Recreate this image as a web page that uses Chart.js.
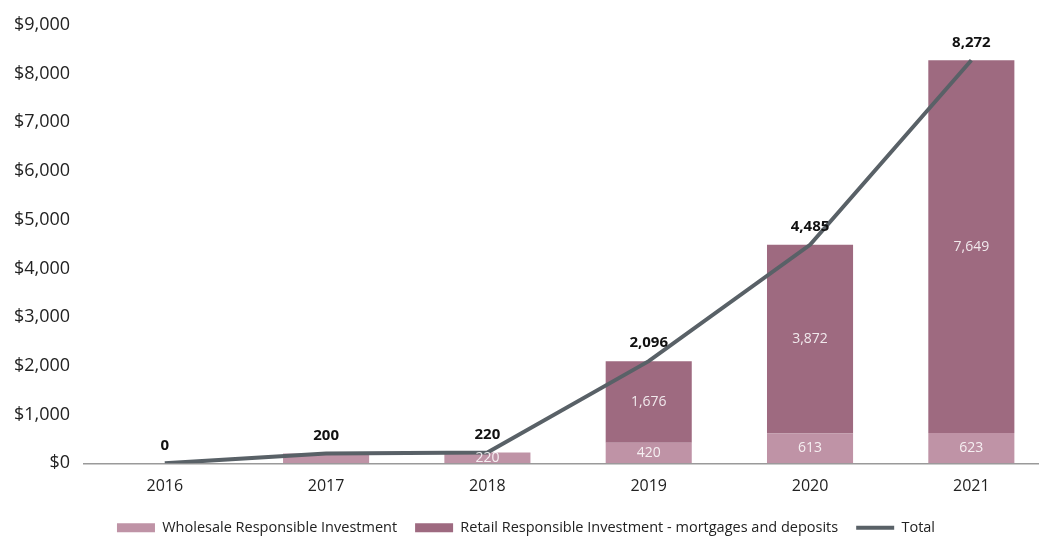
<!DOCTYPE html>
<html>
<head>
<meta charset="utf-8">
<script src="https://cdn.jsdelivr.net/npm/chart.js@4"></script>
<style>
  html, body { margin: 0; padding: 0; background: #fff; overflow: hidden; }
  #wrap { width: 1060px; height: 545px; position: relative; }
</style>
</head>
<body>
<div id="wrap"><canvas id="chart"></canvas></div>
<script>
var years = ["2016", "2017", "2018", "2019", "2020", "2021"];
var wholesale = [0, 200, 220, 420, 613, 623];
var retail = [0, 0, 0, 1676, 3872, 7649];
var totals = [0, 200, 220, 2096, 4485, 8272];
var wholesaleLabels = ["", "", "220", "420", "613", "623"];
var retailLabels = ["", "", "", "1,676", "3,872", "7,649"];
var totalLabels = ["0", "200", "220", "2,096", "4,485", "8,272"];

var FONT = "'Open Sans', sans-serif";

// values inside the bars and totals above the line
var labelPlugin = {
  id: "barLabels",
  afterDatasetsDraw: function (chart) {
    var ctx = chart.ctx;
    ctx.save();
    ctx.textAlign = "center";
    ctx.textBaseline = "middle";
    ctx.font = "14px " + FONT;
    ctx.fillStyle = "rgba(255,255,255,0.85)";
    [[0, wholesaleLabels], [1, retailLabels]].forEach(function (pair) {
      var meta = chart.getDatasetMeta(pair[0]);
      meta.data.forEach(function (bar, i) {
        var txt = pair[1][i];
        if (!txt) return;
        ctx.fillText(txt, bar.x, (bar.y + bar.base) / 2);
      });
    });
    var lineMeta = chart.getDatasetMeta(2);
    ctx.font = "bold 15px " + FONT;
    ctx.fillStyle = "#111";
    lineMeta.data.forEach(function (pt, i) {
      ctx.fillText(totalLabels[i], pt.x, pt.y - 18);
    });
    ctx.restore();
  }
};

new Chart(document.getElementById("chart"), {
  type: "bar",
  data: {
    labels: years,
    datasets: [
      {
        label: "Wholesale Responsible Investment",
        data: wholesale,
        backgroundColor: "#bf93a6",
        pointStyle: "rect",
        order: 1
      },
      {
        label: "Retail Responsible Investment - mortgages and deposits",
        data: retail,
        backgroundColor: "#9e6a80",
        pointStyle: "rect",
        order: 1
      },
      {
        type: "line",
        label: "Total",
        data: totals,
        borderColor: "#596167",
        backgroundColor: "#596167",
        borderWidth: 4,
        pointRadius: 0,
        pointStyle: "line",
        tension: 0,
        stack: "total",
        order: 0
      }
    ]
  },
  options: {
    responsive: true,
    maintainAspectRatio: false,
    animation: false,
    layout: { padding: { top: 6, left: 0, right: 8 } },
    datasets: {
      bar: { barPercentage: 0.667, categoryPercentage: 0.8, borderWidth: 0 }
    },
    plugins: {
      tooltip: { enabled: false },
      legend: {
        position: "bottom",
        labels: {
          usePointStyle: true,
          pointStyleWidth: 38,
          boxHeight: 9,
          padding: 18,
          color: "#222",
          font: { family: FONT, size: 14.5 },
          sort: function (a, b) { return a.datasetIndex - b.datasetIndex; }
        }
      }
    },
    scales: {
      x: {
        stacked: true,
        grid: { display: false },
        border: { color: "#9a9a9a", width: 1.5 },
        ticks: { color: "#222", font: { family: FONT, size: 16 }, padding: 6 }
      },
      y: {
        stacked: true,
        min: 0,
        max: 9000,
        grid: { display: false, drawTicks: false },
        border: { display: false },
        ticks: {
          stepSize: 1000,
          padding: 14,
          color: "#222",
          font: { family: FONT, size: 18 },
          callback: function (v) { return "$" + v.toLocaleString("en-US"); }
        }
      }
    }
  },
  plugins: [labelPlugin]
});
</script>
</body>
</html>
